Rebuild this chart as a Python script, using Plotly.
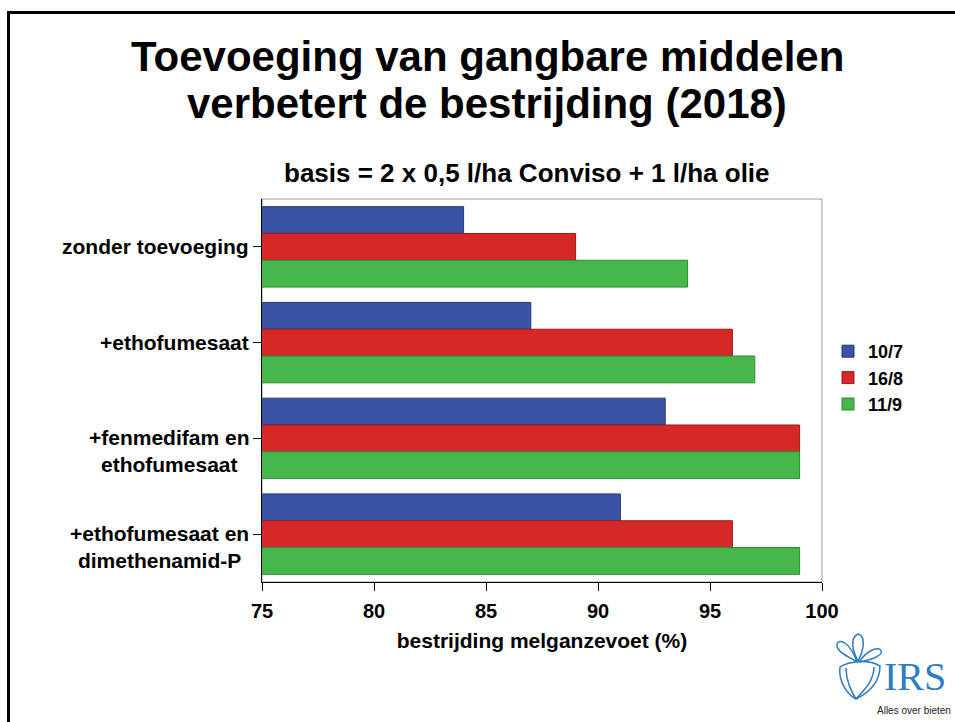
import re
import plotly.graph_objects as go

# ---- data ----
categories = ["zonder toevoeging", "+ethofumesaat", "+fenmedifam en<br>ethofumesaat",
              "+ethofumesaat en<br>dimethenamid-P"]
series_names = ["10/7", "16/8", "11/9"]
values_10_7 = [84, 87, 93, 91]
values_16_8 = [89, 96, 99, 96]
values_11_9 = [94, 97, 99, 99]
x_ticks = [75, 80, 85, 90, 95, 100]

title_lines = ["Toevoeging van gangbare middelen", "verbetert de bestrijding (2018)"]
subtitle = "basis = 2 x 0,5 l/ha Conviso + 1 l/ha olie"
x_title = "bestrijding melganzevoet (%)"

# ---- layout geometry (pixels) ----
W, H = 955, 722
L, R, T, B = 262, 822, 199, 582
FONT = "Liberation Sans, Arial, Helvetica, sans-serif"


def X(px):
    return (px - L) / (R - L)


def Y(py):
    return (B - py) / (B - T)


def to_paper(path):
    return re.sub(r'(-?\d+\.?\d*),(-?\d+\.?\d*)',
                  lambda m: f"{X(float(m.group(1))):.5f},{Y(float(m.group(2))):.5f}", path)


fills = ["#3a53a4", "#d72828", "#46b84b"]
borders = ["#28397a", "#9e1b1b", "#2e8a34"]

fig = go.Figure()
for name, vals, fc, bc in zip(series_names, [values_10_7, values_16_8, values_11_9], fills, borders):
    fig.add_trace(go.Bar(
        y=categories, x=vals, name=name, orientation="h",
        marker=dict(color=fc, line=dict(color=bc, width=1)),
        base=0,
    ))

annotations = []
# title lines
annotations.append(dict(text=title_lines[0], x=X(487), y=Y(57), xref="paper", yref="paper",
                        showarrow=False, xanchor="center", yanchor="middle",
                        font=dict(family=FONT, size=42, color="black", weight="bold")))
annotations.append(dict(text=title_lines[1], x=X(487), y=Y(103), xref="paper", yref="paper",
                        showarrow=False, xanchor="center", yanchor="middle",
                        font=dict(family=FONT, size=42, color="black", weight="bold")))
annotations.append(dict(text=subtitle, x=X(527), y=Y(173), xref="paper", yref="paper",
                        showarrow=False, xanchor="center", yanchor="middle",
                        font=dict(family=FONT, size=26, color="black", weight="bold")))
# y category labels (centered multi-line text)
for c in categories:
    n = c.count("<br>") + 1
    annotations.append(dict(text=c, x=0, y=c, xref="paper", yref="y", showarrow=False,
                            xanchor="right", yanchor="middle", align="center",
                            xshift=-11, yshift=-(n - 1) * 13,
                            font=dict(family=FONT, size=21, color="black", weight="bold")))
# logo text
annotations.append(dict(text="IRS", x=X(915), y=Y(676), xref="paper", yref="paper",
                        showarrow=False, xanchor="center", yanchor="middle",
                        font=dict(family="Liberation Serif, Times New Roman, serif", size=40,
                                  color="#2f7cc0")))
annotations.append(dict(text="Alles over bieten", x=X(914), y=Y(710), xref="paper", yref="paper",
                        showarrow=False, xanchor="center", yanchor="middle",
                        font=dict(family=FONT, size=10, color="#222222")))

shapes = []
# plot frame (grey top/right)
shapes.append(dict(type="rect", xref="paper", yref="paper", x0=0, x1=1, y0=0, y1=1,
                   line=dict(color="#9a9a9a", width=1), layer="below"))
# slide frame
shapes.append(dict(type="line", xref="paper", yref="paper", x0=X(8.5), x1=X(8.5),
                   y0=Y(11), y1=Y(722), line=dict(color="black", width=3)))
shapes.append(dict(type="line", xref="paper", yref="paper", x0=X(7), x1=X(955),
                   y0=Y(12.5), y1=Y(12.5), line=dict(color="black", width=3)))
# logo icon
icon_paths = [
    "M 840,667 C 838,682 848,695 856,699 C 866,694 880,684 880,666 C 870,660 850,660 840,667 Z",
    "M 846,668 C 846,682 852,692 856,699",
    "M 874,667 C 874,682 862,692 856,699",
    "M 857,662 C 848,656 836,652 837,644 C 839,638 850,642 857,662",
    "M 858,661 C 852,650 850,638 858,634 C 866,636 864,650 858,661",
    "M 859,662 C 866,652 876,646 881,650 C 884,656 870,660 859,662",
]
for p in icon_paths:
    shapes.append(dict(type="path", xref="paper", yref="paper", path=to_paper(p),
                       line=dict(color="#2f7cc0", width=1.5)))

fig.update_layout(
    width=W, height=H,
    margin=dict(l=L, r=W - R, t=T, b=H - B, pad=0),
    paper_bgcolor="white", plot_bgcolor="white",
    barmode="group", bargap=0.16, bargroupgap=0,
    showlegend=True,
    legend=dict(x=X(828), y=Y(378), xanchor="left", yanchor="middle",
                font=dict(family=FONT, size=18, color="black", weight="bold"),
                bgcolor="rgba(0,0,0,0)", tracegroupgap=0, traceorder="normal"),
    annotations=annotations,
    shapes=shapes,
    xaxis=dict(range=[75, 100], tickvals=x_ticks, ticktext=[str(v) for v in x_ticks],
               showgrid=False, zeroline=False, showline=True, linecolor="black", linewidth=1,
               ticks="outside", ticklen=8, tickcolor="black", tickwidth=1,
               ticklabelstandoff=3,
               tickfont=dict(family=FONT, size=20, color="black", weight="bold"),
               title=dict(text=x_title, standoff=12,
                          font=dict(family=FONT, size=21, color="black", weight="bold"))),
    yaxis=dict(categoryorder="array", categoryarray=categories, autorange="reversed",
               showgrid=False, zeroline=False, showline=True, linecolor="black", linewidth=1,
               ticks="outside", ticklen=8, tickcolor="black", tickwidth=1,
               showticklabels=False),
)

fig.write_html("out.html", config={"displayModeBar": False},
               post_script="document.body.style.margin='0';document.body.style.padding='0';")
